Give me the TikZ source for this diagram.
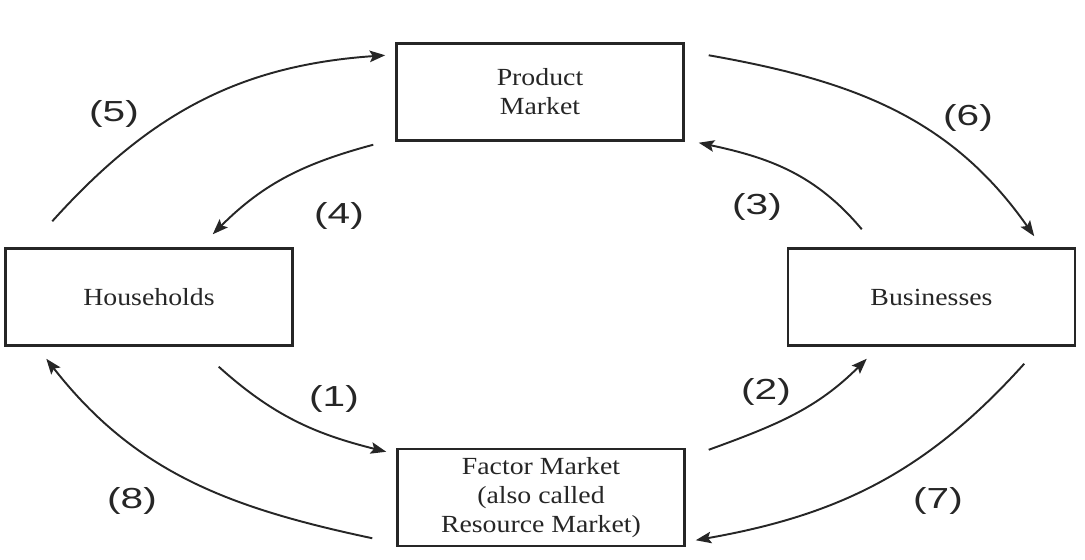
\documentclass[tikz,border=0pt]{standalone}
\usepackage{fontspec}
\setmainfont{Liberation Serif}[FakeStretch=1.13]
\newfontfamily\lblfont{Liberation Sans}[FakeStretch=1.4]
\usepackage{tikz}
\usetikzlibrary{
  arrows.meta
}
\definecolor{ink}{HTML}{262626}
\tikzset{
  box/.style={
    draw=ink, line width=1.4pt,
    minimum width=5.74cm, minimum height=1.94cm,
    align=center, text=ink,
    font=\fontsize{14}{16.5}\selectfont
  },
  flow/.style={-{Stealth[length=3.1mm, width=2.3mm, inset=0.6mm]}, line width=1.1pt, draw=ink},
  lbl/.style={font=\lblfont\fontsize{16.5}{18}\selectfont, text=ink},
}

\begin{document}
\begin{tikzpicture}
\useasboundingbox (0,0) rectangle (21.7,-11.2);

% markets and sectors
\node[box] (prod) at (10.8,-1.84) {Product\\Market};
\node[box] (hh) at (2.98,-5.94) {Households};
\node[box] (biz) at (18.63,-5.94) {Businesses};
\node[box] (fac) at (10.82,-9.95) {Factor Market\\(also called\\Resource Market)};

% outer flows
\draw[flow] ([shift={(0.96,0.52)}]hh.north west) to[out=48, in=184] ([shift={(-0.2,-0.26)}]prod.north west);
\draw[flow] ([shift={(0.48,-0.26)}]prod.north east) to[out=-10, in=125] ([shift={(-0.84,0.22)}]biz.north east);
\draw[flow] ([shift={(-1.04,-0.34)}]biz.south east) to[out=228, in=10] ([shift={(0.2,0.14)}]fac.south east);
\draw[flow] ([shift={(-0.48,0.18)}]fac.south west) to[out=168, in=-52] ([shift={(0.84,-0.24)}]hh.south west);

% inner flows
\draw[flow] ([shift={(-0.44,-0.06)}]prod.south west) to[out=195, in=45] ([shift={(-1.62,0.26)}]hh.north east);
\draw[flow] ([shift={(1.5,0.36)}]biz.north west) to[out=130, in=-12] ([shift={(0.28,-0.02)}]prod.south east);
\draw[flow] ([shift={(-1.5,-0.4)}]hh.south east) to[out=-42, in=166] ([shift={(-0.2,-0.08)}]fac.north west);
\draw[flow] ([shift={(0.46,-0.04)}]fac.north east) to[out=20, in=-135] ([shift={(1.6,-0.24)}]biz.south west);

% numbers
\node[lbl] (l1) at (6.68,-7.98) {(1)};
\node[lbl] (l2) at (15.32,-7.84) {(2)};
\node[lbl] (l3) at (15.14,-4.14) {(3)};
\node[lbl] (l4) at (6.78,-4.32) {(4)};
\node[lbl] (l5) at (2.28,-2.28) {(5)};
\node[lbl] (l6) at (19.36,-2.36) {(6)};
\node[lbl] (l7) at (18.76,-10.02) {(7)};
\node[lbl] (l8) at (2.64,-10.02) {(8)};

\end{tikzpicture}
\end{document}
